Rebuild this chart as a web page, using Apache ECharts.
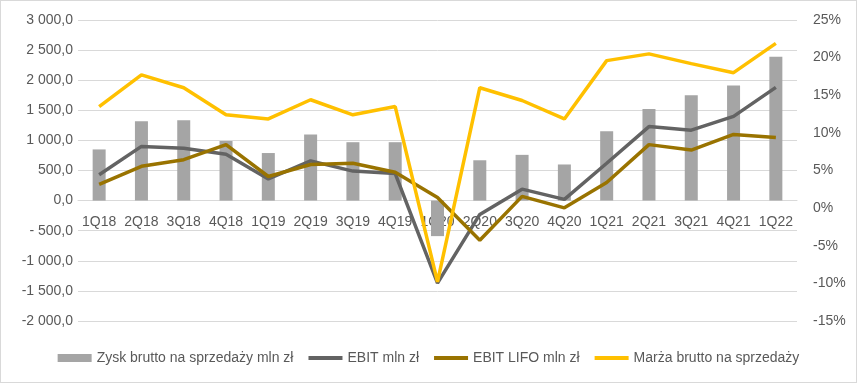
<!DOCTYPE html>
<html>
<head>
<meta charset="utf-8">
<script src="https://cdn.jsdelivr.net/npm/echarts@6/dist/echarts.min.js"></script>
<style>
html,body{margin:0;padding:0;background:#fff;}
#c{width:857px;height:383px;box-sizing:border-box;border:1px solid #d9d9d9;}
</style>
</head>
<body>
<div id="c"></div>
<script>
const categories = ['1Q18','2Q18','3Q18','4Q18','1Q19','2Q19','3Q19','4Q19','1Q20','2Q20','3Q20','4Q20','1Q21','2Q21','3Q21','4Q21','1Q22'];
const zyskBrutto = [850, 1320, 1335, 990, 790, 1100, 970, 970, -590, 670, 760, 600, 1150, 1520, 1750, 1910, 2390];
const ebit = [430, 900, 870, 770, 360, 660, 490, 450, -1370, -230, 190, 20, 620, 1230, 1170, 1400, 1880];
const ebitLifo = [270, 570, 680, 930, 400, 600, 620, 470, 50, -660, 70, -120, 300, 930, 840, 1100, 1050];
const marza = [13.5, 17.7, 16.0, 12.4, 11.85, 14.4, 12.4, 13.5, -9.8, 16.0, 14.3, 11.85, 19.6, 20.5, 19.2, 18.0, 21.9];

const FONT = 'Liberation Sans';
const TXT = '#595959';
const LINE_ICON = 'path://M0,0h34v4h-34z';
const Y_MIN = -2000, Y_MAX = 3000;
const GRID_TOP = 19, GRID_BOTTOM = 61, H = 383;

function fmtLeft(v){
  const neg = v < 0;
  const a = Math.abs(v);
  const th = Math.floor(a / 1000);
  const rest = Math.round(a % 1000);
  let s;
  if (th > 0) s = th + ' ' + String(rest).padStart(3, '0') + ',0';
  else s = rest + ',0';
  if (neg) s = (th > 0 ? '-' : '- ') + s;
  return s;
}

// place the category axis on the zero line of the left value axis
const plotH = H - GRID_TOP - GRID_BOTTOM;
const zeroOffset = -plotH * (0 - Y_MIN) / (Y_MAX - Y_MIN);

const chart = echarts.init(document.getElementById('c'), null, {renderer:'canvas'});
chart.setOption({
  animation:false,
  textStyle:{fontFamily:FONT},
  grid:{left:77, right:59, top:GRID_TOP, bottom:GRID_BOTTOM, containLabel:false},
  legend:{
    bottom:12, left:'center',
    itemGap:15, itemWidth:34, itemHeight:8,
    textStyle:{color:TXT, fontSize:14, fontFamily:FONT},
    data:[
      {name:'Zysk brutto na sprzedaży mln zł', icon:'rect'},
      {name:'EBIT mln zł', icon:LINE_ICON},
      {name:'EBIT LIFO mln zł', icon:LINE_ICON},
      {name:'Marża brutto na sprzedaży', icon:LINE_ICON}
    ]
  },
  xAxis:{
    type:'category', data:categories, position:'bottom', offset:zeroOffset, z:0,
    axisLine:{onZero:false, lineStyle:{color:'#d9d9d9'}},
    axisTick:{show:false},
    axisLabel:{color:TXT, fontSize:14, margin:15, interval:0, fontFamily:FONT}
  },
  yAxis:[
    {type:'value', min:Y_MIN, max:Y_MAX, interval:500,
     axisLine:{show:false}, axisTick:{show:false},
     splitLine:{lineStyle:{color:'#d9d9d9'}},
     axisLabel:{color:TXT, fontSize:14, margin:5, formatter:fmtLeft, fontFamily:FONT}},
    {type:'value', min:-15, max:25, interval:5,
     axisLine:{show:false}, axisTick:{show:false},
     splitLine:{show:false},
     axisLabel:{color:TXT, fontSize:14, margin:16, formatter:v=>v+'%', fontFamily:FONT}}
  ],
  series:[
    {name:'Zysk brutto na sprzedaży mln zł', type:'bar', data:zyskBrutto, barWidth:13, z:5,
     itemStyle:{color:'#a5a5a5'}},
    {name:'EBIT mln zł', type:'line', data:ebit, symbol:'none', z:6,
     lineStyle:{color:'#636363', width:3.5}, itemStyle:{color:'#636363'}},
    {name:'EBIT LIFO mln zł', type:'line', data:ebitLifo, symbol:'none', z:7,
     lineStyle:{color:'#997300', width:3.5}, itemStyle:{color:'#997300'}},
    {name:'Marża brutto na sprzedaży', type:'line', yAxisIndex:1, data:marza, symbol:'none', z:8,
     lineStyle:{color:'#ffc000', width:3.5}, itemStyle:{color:'#ffc000'}}
  ]
});
</script>
</body>
</html>
